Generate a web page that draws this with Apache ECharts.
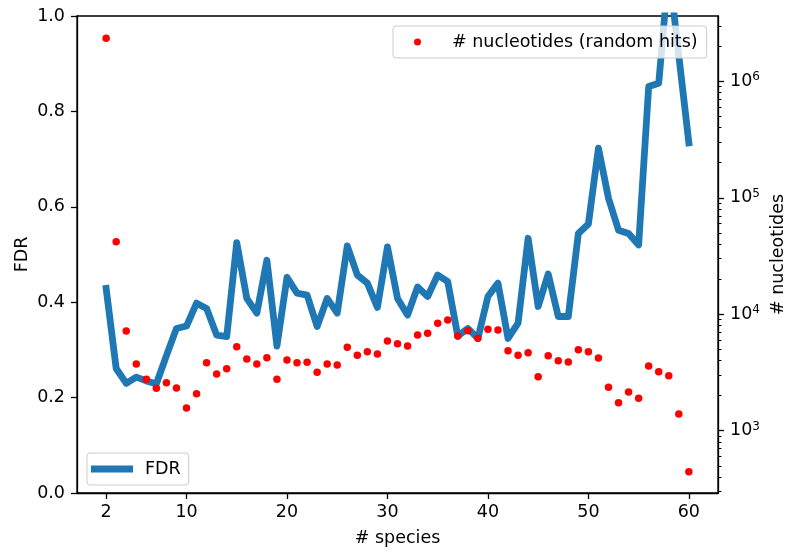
<!DOCTYPE html>
<html>
<head>
<meta charset="utf-8">
<script src="https://cdn.jsdelivr.net/npm/echarts@6/dist/echarts.min.js"></script>
<style>
html,body{margin:0;padding:0;background:#fff;}
#chart{width:785px;height:552px;}
</style>
</head>
<body>
<div id="chart"></div>
<script>
// ---- data ----
const species = [2,3,4,5,6,7,8,9,10,11,12,13,14,15,16,17,18,19,20,21,22,23,24,25,26,27,28,29,30,31,32,33,34,35,36,37,38,39,40,41,42,43,44,45,46,47,48,49,50,51,52,53,54,55,56,57,58,59,60];
const fdr = [0.429,0.261,0.230,0.243,0.235,0.229,0.288,0.345,0.350,0.398,0.387,0.331,0.328,0.525,0.408,0.377,0.488,0.308,0.452,0.419,0.415,0.349,0.408,0.377,0.518,0.457,0.440,0.389,0.516,0.408,0.373,0.432,0.412,0.457,0.443,0.329,0.345,0.324,0.412,0.440,0.324,0.356,0.534,0.391,0.459,0.370,0.370,0.544,0.564,0.723,0.618,0.551,0.544,0.520,0.852,0.859,1.10,0.917,0.734];
const nucleotides = [2340000,42000,7180,3740,2760,2310,2580,2330,1570,2080,3840,3070,3400,5260,4130,3740,4240,2760,4050,3840,3870,3170,3740,3670,5200,4440,4760,4560,5890,5580,5330,6630,6860,8360,8920,6500,7220,6210,7430,7330,4860,4440,4670,2910,4400,3990,3890,4960,4760,4210,2360,1740,2150,1900,3600,3210,2970,1390,445];
const xTicks = [2,10,20,30,40,50,60];
const rightMajorExp = [3,4,5,6];
const rightMinorDecades = [2,3,4,5,6];
const rightMinorSubs = [2,3,4,5,6,7,8,9];
const X_MIN = -0.9, X_MAX = 62.9;
const LOG_MIN = 2.465, LOG_MAX = 6.561;

const minorVals = [];
rightMinorDecades.forEach(d => rightMinorSubs.forEach(s => {
  const v = Math.log10(s) + d;
  if (v > LOG_MIN && v < LOG_MAX) minorVals.push(v);
}));

const FONT = 'DejaVu Sans';
const FS = 17.5;
const txt = {color:'#000', fontFamily: FONT, fontSize: FS};

const chart = echarts.init(document.getElementById('chart'), null, {renderer:'canvas'});
chart.setOption({
  animation: false,
  backgroundColor: '#fff',
  textStyle: {fontFamily: FONT},
  grid: {left: 77, right: 67, top: 16, bottom: 59, containLabel: false, outerBoundsMode: 'none',
         show: true, borderColor: '#000', borderWidth: 1.3, backgroundColor: 'transparent'},
  legend: [
    {data: ['# nucleotides (random hits)'], left: 393, top: 26, orient: 'horizontal',
     padding: [7, 9, 7, 21], itemWidth: 7, itemHeight: 7, icon: 'circle',
     backgroundColor: 'rgba(255,255,255,0.8)', borderColor: '#cccccc', borderWidth: 1, borderRadius: 3,
     formatter: name => '{g| }' + name,
     textStyle: Object.assign({rich: {g: {width: 26}}}, txt)},
    {data: ['FDR'], left: 87, top: 453, orient: 'horizontal',
     padding: [7, 8, 7, 4], itemWidth: 42, itemHeight: 7, icon: 'rect',
     backgroundColor: 'rgba(255,255,255,0.8)', borderColor: '#cccccc', borderWidth: 1, borderRadius: 3,
     formatter: name => '{g| }' + name,
     textStyle: Object.assign({rich: {g: {width: 7}}}, txt)}
  ],
  xAxis: [{
    type: 'value', min: X_MIN, max: X_MAX,
    name: '# species', nameLocation: 'middle', nameGap: 36, nameMoveOverlap: false, nameTextStyle: txt,
    axisLine: {show: true, onZero: false, lineStyle: {color: '#000', width: 1.3}},
    axisTick: {show: true, length: 6, lineStyle: {color: '#000', width: 1.3}, customValues: xTicks},
    axisLabel: Object.assign({margin: 10, customValues: xTicks, formatter: v => String(v)}, txt),
    splitLine: {show: false}
  }],
  yAxis: [{
    type: 'value', min: 0, max: 1, interval: 0.2, position: 'left',
    name: 'FDR', nameLocation: 'middle', nameGap: 46, nameMoveOverlap: false, nameTextStyle: txt,
    axisLine: {show: true, onZero: false, lineStyle: {color: '#000', width: 1.3}},
    axisTick: {show: true, length: 6, lineStyle: {color: '#000', width: 1.3}},
    axisLabel: Object.assign({margin: 12, formatter: v => v.toFixed(1)}, txt),
    splitLine: {show: false}
  }, {
    type: 'value', min: LOG_MIN, max: LOG_MAX, position: 'right',
    name: '# nucleotides', nameLocation: 'middle', nameGap: 51, nameRotate: 90, nameMoveOverlap: false, nameTextStyle: txt,
    axisLine: {show: true, onZero: false, lineStyle: {color: '#000', width: 1.3}},
    axisTick: {show: true, length: 6, lineStyle: {color: '#000', width: 1.3}, customValues: rightMajorExp},
    axisLabel: {margin: 12, customValues: rightMajorExp, color: '#000',
      formatter: v => '{b|10}{s|' + Math.round(v) + '}',
      rich: {
        b: {fontFamily: FONT, fontSize: FS, color: '#000', lineHeight: 20},
        s: {fontFamily: FONT, fontSize: 12, color: '#000', lineHeight: 12, verticalAlign: 'top'}
      }},
    splitLine: {show: false}
  }, {
    type: 'value', min: LOG_MIN, max: LOG_MAX, position: 'right', offset: 0,
    axisLine: {show: false, onZero: false},
    axisTick: {show: true, length: 3.5, lineStyle: {color: '#000', width: 1}, customValues: minorVals},
    axisLabel: {show: false},
    splitLine: {show: false}
  }],
  series: [{
    name: 'FDR', type: 'line', xAxisIndex: 0, yAxisIndex: 0,
    data: species.map((s, i) => [s, fdr[i]]),
    showSymbol: false, symbol: 'none', clip: true,
    color: '#1f77b4',
    lineStyle: {color: '#1f77b4', width: 6.8, cap: 'square', join: 'round'},
    z: 2
  }, {
    name: '# nucleotides (random hits)', type: 'scatter', xAxisIndex: 0, yAxisIndex: 1,
    data: species.map((s, i) => [s, Math.log10(nucleotides[i])]),
    symbol: 'circle', symbolSize: 7.5,
    itemStyle: {color: '#ff0000', opacity: 1}, color: '#ff0000',
    z: 3
  }]
});
</script>
</body>
</html>
